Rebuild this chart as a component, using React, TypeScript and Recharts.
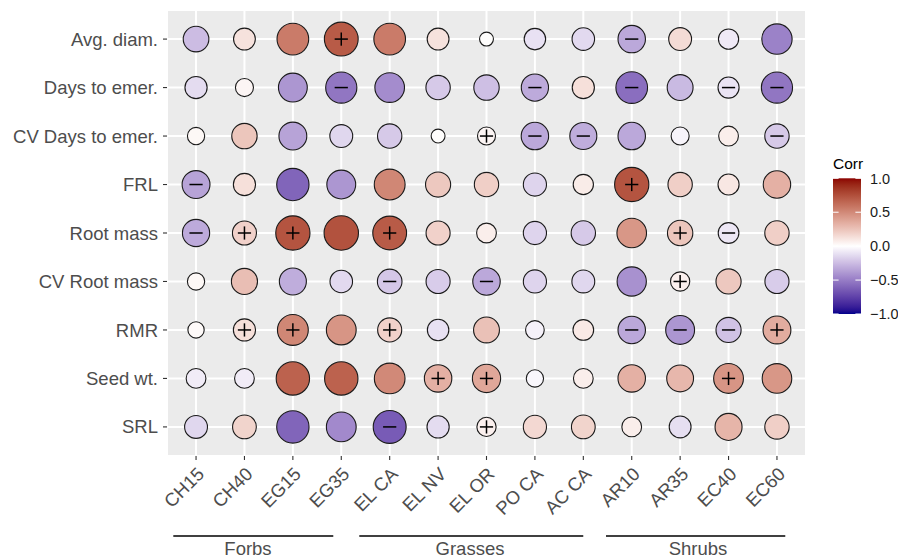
import React from 'react';
import {
  ScatterChart,
  Scatter,
  XAxis,
  YAxis,
  CartesianGrid,
  ReferenceLine,
  ReferenceDot,
} from 'recharts';

// ---- categories -------------------------------------------------------
const species = [
  'CH15', 'CH40', 'EG15', 'EG35', 'EL CA', 'EL NV', 'EL OR',
  'PO CA', 'AC CA', 'AR10', 'AR35', 'EC40', 'EC60',
];

const traits = [
  'Avg. diam.', 'Days to emer.', 'CV Days to emer.', 'FRL', 'Root mass',
  'CV Root mass', 'RMR', 'Seed wt.', 'SRL',
];

// ---- correlation of each trait with each species (same order as species)
const avgDiam = [-0.25, 0.12, 0.56, 0.7, 0.56, 0.12, 0.01, -0.11, -0.14, -0.33, 0.15, -0.08, -0.48];
const daysToEmer = [-0.13, 0.04, -0.4, -0.53, -0.44, -0.2, -0.24, -0.32, 0.13, -0.56, -0.26, -0.1, -0.53];
const cvDaysToEmer = [0.03, 0.24, -0.35, -0.15, -0.2, 0.01, 0.04, -0.33, -0.31, -0.33, -0.04, 0.07, -0.2];
const frl = [-0.35, 0.13, -0.6, -0.4, 0.51, 0.23, 0.2, -0.16, 0.08, 0.73, 0.2, 0.1, 0.33];
const rootMass = [-0.32, 0.19, 0.73, 0.74, 0.7, 0.19, 0.07, -0.16, -0.2, 0.44, 0.24, -0.09, 0.2];
const cvRootMass = [0.03, 0.27, -0.31, -0.14, -0.21, -0.19, -0.33, -0.16, -0.15, -0.42, 0.06, 0.23, -0.19];
const rmr = [0.02, 0.13, 0.51, 0.45, 0.19, -0.11, 0.26, -0.05, 0.09, -0.33, -0.4, -0.23, 0.35];
const seedWt = [-0.07, -0.07, 0.67, 0.67, 0.5, 0.33, 0.37, -0.03, 0.07, 0.33, 0.3, 0.45, 0.44];
const srl = [-0.15, 0.18, -0.6, -0.45, -0.64, -0.13, 0.06, 0.16, 0.18, 0.07, -0.12, 0.31, 0.2];

// significance marks per cell: '+' positive, '-' negative, '.' none
const avgDiamSig = '...+.....-...';
const daysToEmerSig = '...-...-.-.--';
const cvDaysToEmerSig = '......+--...-';
const frlSig = '-........+...';
const rootMassSig = '-++.+.....+-.';
const cvRootMassSig = '....-.-...+..';
const rmrSig = '.++.+....---+';
const seedWtSig = '.....++....+.';
const srlSig = '....-.+......';

// species groups shown beneath the axis
const groupNames = ['Forbs', 'Grasses', 'Shrubs'];

const corrRows = [avgDiam, daysToEmer, cvDaysToEmer, frl, rootMass, cvRootMass, rmr, seedWt, srl];
const sigRows = [
  avgDiamSig, daysToEmerSig, cvDaysToEmerSig, frlSig, rootMassSig,
  cvRootMassSig, rmrSig, seedWtSig, srlSig,
];

type Cell = { x: number; y: number; value: number; sig: string };

const cells: Cell[] = [];
corrRows.forEach((row, r) =>
  row.forEach((value, c) => cells.push({ x: c, y: r, value, sig: sigRows[r][c] }))
);

// ---- colour scale: diverging gradient interpolated in CIE Lab -------
const Xn = 0.95047;
const Yn = 1.0;
const Zn = 1.08883;
const toLin = (c: number) => (c <= 0.04045 ? c / 12.92 : Math.pow((c + 0.055) / 1.055, 2.4));
const toGamma = (c: number) => (c <= 0.0031308 ? 12.92 * c : 1.055 * Math.pow(c, 1 / 2.4) - 0.055);

function hexToLab(hex: string): number[] {
  const r = toLin(parseInt(hex.slice(1, 3), 16) / 255);
  const g = toLin(parseInt(hex.slice(3, 5), 16) / 255);
  const b = toLin(parseInt(hex.slice(5, 7), 16) / 255);
  const X = 0.4124564 * r + 0.3575761 * g + 0.1804375 * b;
  const Y = 0.2126729 * r + 0.7151522 * g + 0.072175 * b;
  const Z = 0.0193339 * r + 0.119192 * g + 0.9503041 * b;
  const f = (t: number) => (t > 216 / 24389 ? Math.cbrt(t) : ((24389 / 27) * t + 16) / 116);
  const fx = f(X / Xn);
  const fy = f(Y / Yn);
  const fz = f(Z / Zn);
  return [116 * fy - 16, 500 * (fx - fy), 200 * (fy - fz)];
}

function labToHex(lab: number[]): string {
  const [L, a, b] = lab;
  const fy = (L + 16) / 116;
  const fx = fy + a / 500;
  const fz = fy - b / 200;
  const inv = (t: number) => (t * t * t > 216 / 24389 ? t * t * t : (116 * t - 16) / (24389 / 27));
  const X = Xn * inv(fx);
  const Y = Yn * inv(fy);
  const Z = Zn * inv(fz);
  const rl = 3.2404542 * X - 1.5371385 * Y - 0.4985314 * Z;
  const gl = -0.969266 * X + 1.8760108 * Y + 0.041556 * Z;
  const bl = 0.0556434 * X - 0.2040259 * Y + 1.0572252 * Z;
  const hx = (c: number) => {
    const v = Math.round(Math.min(1, Math.max(0, toGamma(c))) * 255);
    return v.toString(16).padStart(2, '0');
  };
  return '#' + hx(rl) + hx(gl) + hx(bl);
}

const LOW = hexToLab('#00008B');
const MID = hexToLab('#FFFFFF');
const HIGH = hexToLab('#8B0000');

function corrColor(v: number): string {
  const t = Math.min(1, Math.abs(v));
  const end = v < 0 ? LOW : HIGH;
  return labToHex(MID.map((m, i) => m + (end[i] - m) * t));
}

// ---- size scale: point diameter grows with sqrt of |corr| -----------
const absVals = cells.map((c) => Math.abs(c.value));
const absMin = Math.min(...absVals);
const absMax = Math.max(...absVals);
const D_MIN = 15;
const D_MAX = 35.5;
const STROKE = 1.1;

function radiusOf(v: number): number {
  const t = (Math.abs(v) - absMin) / (absMax - absMin);
  const d = D_MIN + (D_MAX - D_MIN) * Math.sqrt(Math.max(0, t));
  return d / 2 - STROKE / 2;
}

const FONT = '"Liberation Sans", Arial, Helvetica, sans-serif';
const AXIS_TEXT = '#4D4D4D';

const CorrDot = (props: any) => {
  const { cx, cy, payload } = props;
  if (cx == null || cy == null || !payload) return null;
  const r = radiusOf(payload.value);
  const h = 6.6;
  return (
    <g>
      <circle cx={cx} cy={cy} r={r} fill={corrColor(payload.value)} stroke="#1A1A1A" strokeWidth={STROKE} />
      {payload.sig !== '.' && (
        <line x1={cx - h} x2={cx + h} y1={cy} y2={cy} stroke="#000" strokeWidth={1.5} />
      )}
      {payload.sig === '+' && (
        <line x1={cx} x2={cx} y1={cy - h} y2={cy + h} stroke="#000" strokeWidth={1.5} />
      )}
    </g>
  );
};

const SpeciesTick = (props: any) => {
  const { x, y, payload } = props;
  return (
    <text
      x={x}
      y={y}
      dy="0.71em"
      transform={`rotate(-45 ${x} ${y})`}
      textAnchor="end"
      fill={AXIS_TEXT}
      fontSize={18.5}
      fontFamily={FONT}
    >
      {species[payload.value]}
    </text>
  );
};

// ---- colour bar ------------------------------------------------------
const legendBreaks = [1, 0.5, 0, -0.5, -1];
const gradientStops = Array.from({ length: 41 }, (_, i) => 1 - i * 0.05);

const ColorBar = () => {
  const bx = 833;
  const bw = 28;
  const top = 178.3;
  const bottom = 314;
  const yOf = (v: number) => top + ((1 - v) / 2) * (bottom - top);
  const fmt = (v: number) => (v < 0 ? '\u2212' : '') + Math.abs(v).toFixed(1);
  return (
    <svg
      width={898}
      height={558}
      style={{ position: 'absolute', left: 0, top: 0, pointerEvents: 'none' }}
    >
      <defs>
        <linearGradient id="corrGrad" x1="0" y1="0" x2="0" y2="1">
          {gradientStops.map((v, i) => (
            <stop key={i} offset={`${(i / (gradientStops.length - 1)) * 100}%`} stopColor={corrColor(v)} />
          ))}
        </linearGradient>
      </defs>
      <text x={bx} y={168.5} fontSize={15.5} fontFamily={FONT} fill="#000">
        Corr
      </text>
      <rect x={bx} y={top} width={bw} height={bottom - top} fill="url(#corrGrad)" />
      {legendBreaks.map((v) => (
        <g key={v}>
          <line x1={bx} x2={bx + bw / 5} y1={yOf(v)} y2={yOf(v)} stroke="#FFFFFF" strokeWidth={1} />
          <line x1={bx + bw - bw / 5} x2={bx + bw} y1={yOf(v)} y2={yOf(v)} stroke="#FFFFFF" strokeWidth={1} />
          <text
            x={870}
            y={yOf(v)}
            dy="0.36em"
            fontSize={14.5}
            fontFamily={FONT}
            fill="#1A1A1A"
          >
            {fmt(v)}
          </text>
        </g>
      ))}
    </svg>
  );
};

export default function App() {
  return (
    <div style={{ position: 'absolute', left: 0, top: 0, width: 898, height: 558, background: '#FFFFFF' }}>
      <ScatterChart width={898} height={558} margin={{ top: 10, right: 92, bottom: 0, left: 0 }}>
        <CartesianGrid fill="#EBEBEB" fillOpacity={1} stroke="#FFFFFF" strokeWidth={2} />
        <XAxis
          type="number"
          dataKey="x"
          domain={[-0.6, 12.6]}
          ticks={species.map((_, i) => i)}
          interval={0}
          height={102}
          axisLine={false}
          tickLine={{ stroke: '#333333', strokeWidth: 1.1 }}
          tickSize={4}
          tickMargin={6}
          tick={<SpeciesTick />}
        />
        <YAxis
          type="number"
          dataKey="y"
          domain={[-0.6, 8.6]}
          reversed
          ticks={traits.map((_, i) => i)}
          interval={0}
          width={167}
          axisLine={false}
          tickLine={{ stroke: '#333333', strokeWidth: 1.1 }}
          tickSize={4}
          tickMargin={5}
          tickFormatter={(v: number) => traits[v]}
          tick={{ fill: AXIS_TEXT, fontSize: 18.5, fontFamily: FONT }}
        />
        <Scatter data={cells} shape={<CorrDot />} isAnimationActive={false} />

        {/* group brackets under the species labels */}
        <ReferenceLine
          segment={[{ x: -0.47, y: 10.25 }, { x: 2.835, y: 10.25 }]}
          stroke="#000000"
          strokeWidth={1.3}
          ifOverflow="visible"
        />
        <ReferenceLine
          segment={[{ x: 3.372, y: 10.25 }, { x: 7.999, y: 10.25 }]}
          stroke="#000000"
          strokeWidth={1.3}
          ifOverflow="visible"
        />
        <ReferenceLine
          segment={[{ x: 8.468, y: 10.25 }, { x: 12.172, y: 10.25 }]}
          stroke="#000000"
          strokeWidth={1.3}
          ifOverflow="visible"
        />
        {[1.073, 5.659, 10.369].map((gx, i) => (
          <ReferenceDot
            key={groupNames[i]}
            x={gx}
            y={10.51}
            r={0}
            fill="none"
            stroke="none"
            ifOverflow="visible"
            label={{
              value: groupNames[i],
              position: 'center',
              fill: AXIS_TEXT,
              fontSize: 18.5,
              fontFamily: FONT,
            }}
          />
        ))}
      </ScatterChart>
      <ColorBar />
    </div>
  );
}
